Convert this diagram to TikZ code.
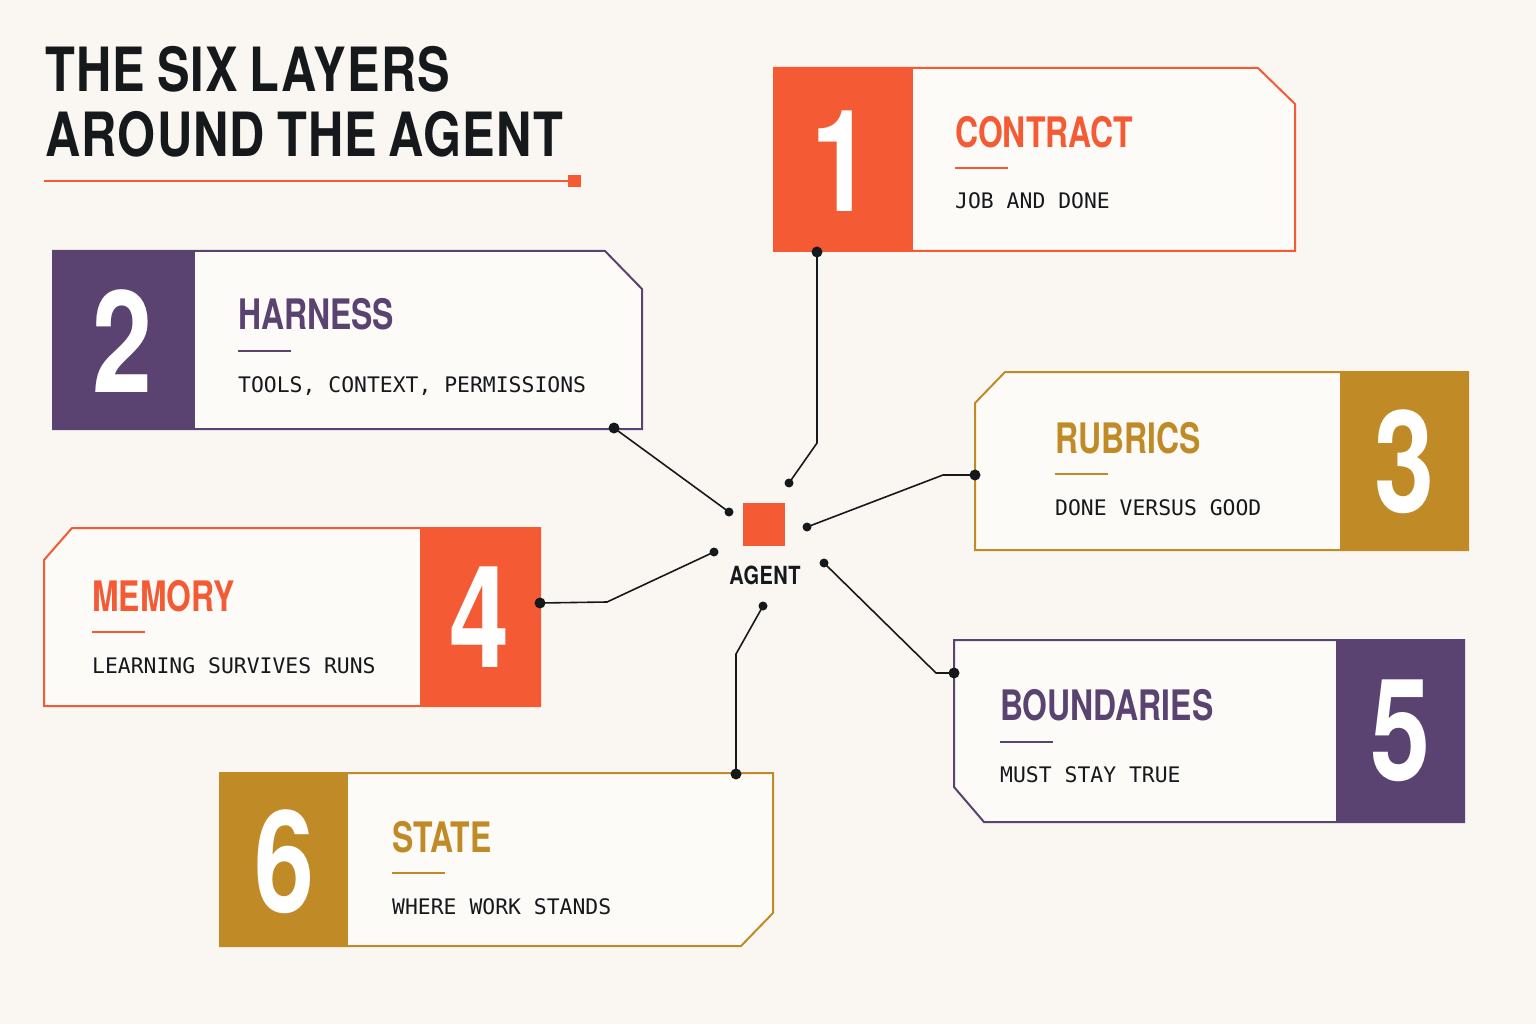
\documentclass[tikz,border=0pt]{standalone}
\usepackage{fontspec}
\setmainfont{TeX Gyre Heros}
\newfontfamily\headfont[FakeStretch=0.76]{TeX Gyre Heros}
\newfontfamily\titlefont[FakeStretch=0.8,LetterSpace=2,WordSpace=0.8]{TeX Gyre Heros}
\newfontfamily\monofont{DejaVu Sans Mono}
\usepackage{xcolor}
\usetikzlibrary{positioning}
\definecolor{paper}{HTML}{FAF7F3}
\definecolor{cardbg}{HTML}{FDFBF8}
\definecolor{ink}{HTML}{16191C}
\definecolor{tangerine}{HTML}{F45B35}
\definecolor{plum}{HTML}{5A4370}
\definecolor{ochre}{HTML}{C08B27}

\begin{document}
\begin{tikzpicture}[x=1pt,y=-1pt,
    cardline/.style={line width=2pt,draw=#1,fill=cardbg},
    numtext/.style={text=white,inner sep=0pt,font=\headfont\bfseries\fontsize{142}{142}\selectfont},
    headtext/.style={anchor=base west,inner sep=0pt,text=#1,font=\headfont\bfseries\fontsize{42}{42}\selectfont},
    subtext/.style={anchor=base west,inner sep=0pt,text=ink,font=\monofont\fontsize{21.4}{21.4}\selectfont},
    link/.style={line width=1.6pt,draw=ink},
    bigdot/.style={circle,fill=ink,inner sep=0pt,minimum size=11pt},
    smalldot/.style={circle,fill=ink,inner sep=0pt,minimum size=9pt}]
    \fill[paper] (0,0) rectangle (1536,1024);
    \useasboundingbox (0,0) rectangle (1536,1024);

    % title
    \node[anchor=base west,inner sep=0pt,text=ink,font=\titlefont\bfseries\fontsize{61}{61}\selectfont] (title1) at (45,92) {THE SIX LAYERS};
    \node[anchor=base west,inner sep=0pt,text=ink,font=\titlefont\bfseries\fontsize{61}{61}\selectfont] (title2) at (45,157) {AROUND THE AGENT};
    \draw[tangerine,line width=2pt] (44,181) -- (570,181);
    \fill[tangerine] (568,175) rectangle (581,187);

    % agent
    \node[fill=tangerine,inner sep=0pt,minimum width=42pt,minimum height=43pt] (agent) at (764,524.5) {};
    \node[anchor=base,inner sep=0pt,text=ink,font=\titlefont\bfseries\fontsize{25}{25}\selectfont] (agentlabel) at (765,584) {AGENT};

    % 1 contract
    \draw[cardline=tangerine] (774,68) -- (1258,68) -- (1295,104) -- (1295,251) -- (774,251) -- cycle;
    \fill[tangerine] (774,68) rectangle (913,251);
    \node[numtext] (n1) at (841,161) {1};
    \node[headtext=tangerine] (h1) at (955,148) {CONTRACT};
    \draw[tangerine,line width=1.5pt] (955,168) -- ++(53,0);
    \node[subtext] (s1) at (955,209) {JOB AND DONE};

    % 2 harness
    \draw[cardline=plum] (53,251) -- (605,251) -- (642,289) -- (642,429) -- (53,429) -- cycle;
    \fill[plum] (53,251) rectangle (195,429);
    \node[numtext] (n2) at (123,341) {2};
    \node[headtext=plum] (h2) at (238,329) {HARNESS};
    \draw[plum,line width=1.5pt] (238,351) -- ++(53,0);
    \node[subtext] (s2) at (238,392) {TOOLS, CONTEXT, PERMISSIONS};

    % 3 rubrics
    \draw[cardline=ochre] (1005,372) -- (1468,372) -- (1468,550) -- (975,550) -- (975,403) -- cycle;
    \fill[ochre] (1340,372) rectangle (1468,550);
    \node[numtext] (n3) at (1404,462) {3};
    \node[headtext=ochre] (h3) at (1055,453) {RUBRICS};
    \draw[ochre,line width=1.5pt] (1055,474) -- ++(53,0);
    \node[subtext] (s3) at (1055,515) {DONE VERSUS GOOD};

    % 4 memory
    \draw[cardline=tangerine] (72,528) -- (540,528) -- (540,706) -- (44,706) -- (44,560) -- cycle;
    \fill[tangerine] (420,528) rectangle (540,706);
    \node[numtext] (n4) at (479,617) {4};
    \node[headtext=tangerine] (h4) at (92,611) {MEMORY};
    \draw[tangerine,line width=1.5pt] (92,632) -- ++(53,0);
    \node[subtext] (s4) at (92,673) {LEARNING SURVIVES RUNS};

    % 5 boundaries
    \draw[cardline=plum] (954,640) -- (1464,640) -- (1464,822) -- (984,822) -- (954,787) -- cycle;
    \fill[plum] (1336,640) rectangle (1464,822);
    \node[numtext] (n5) at (1400,731) {5};
    \node[headtext=plum] (h5) at (1000,720) {BOUNDARIES};
    \draw[plum,line width=1.5pt] (1000,742) -- ++(53,0);
    \node[subtext] (s5) at (1000,782) {MUST STAY TRUE};

    % 6 state
    \draw[cardline=ochre] (220,773) -- (773,773) -- (773,913) -- (741,946) -- (220,946) -- cycle;
    \fill[ochre] (220,773) rectangle (348,946);
    \node[numtext] (n6) at (284,862) {6};
    \node[headtext=ochre] (h6) at (392,852) {STATE};
    \draw[ochre,line width=1.5pt] (392,873) -- ++(53,0);
    \node[subtext] (s6) at (392,914) {WHERE WORK STANDS};

    % connectors
    \coordinate (p1) at (817,252); \coordinate (q1) at (789,483);
    \coordinate (p2) at (614,428); \coordinate (q2) at (729,512);
    \coordinate (p3) at (975,475); \coordinate (q3) at (807,527);
    \coordinate (p4) at (540,603); \coordinate (q4) at (714,552);
    \coordinate (p5) at (954,673); \coordinate (q5) at (824,563);
    \coordinate (p6) at (736,774); \coordinate (q6) at (763,606);
    \draw[link] (p1) -- (817,443) -- (q1);
    \draw[link] (p2) -- (q2);
    \draw[link] (p3) -- (943,475) -- (q3);
    \draw[link] (p4) -- (607,602) -- (q4);
    \draw[link] (p5) -- (936,673) -- (q5);
    \draw[link] (p6) -- (736,654) -- (q6);
    \foreach \i in {1,...,6} {
        \node[bigdot] at (p\i) {};
        \node[smalldot] at (q\i) {};
    }
\end{tikzpicture}
\end{document}
